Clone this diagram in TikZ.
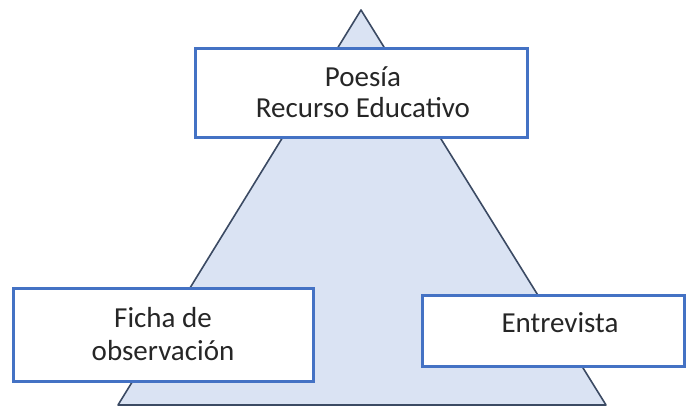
\documentclass[tikz,border=0pt]{standalone}
\usepackage{fontspec}
\setmainfont{Carlito}
\definecolor{trifill}{HTML}{DAE3F3}
\definecolor{tristroke}{HTML}{3B4A63}
\definecolor{boxblue}{HTML}{4472C4}
\definecolor{txt}{HTML}{262626}
\begin{document}
\begin{tikzpicture}[x=1pt,y=-1pt,
  box/.style={draw=boxblue,line width=3pt,fill=white,inner sep=0pt},
  lbl/.style={text=txt,font=\fontsize{29}{31}\selectfont,align=center,anchor=base,inner sep=0pt}]
\useasboundingbox (0,0) rectangle (686,406);
\coordinate (apex) at (361,10);
\coordinate (bl) at (118,405);
\coordinate (br) at (606,405);
\draw[fill=trifill,draw=tristroke,line width=1.6pt,line join=round] (apex) -- (br) -- (bl) -- cycle;
\node[box,minimum width=332pt,minimum height=89pt] (top) at (361,93.5) {};
\node[lbl] (toptext) at (363,118) {Poesía\\Recurso Educativo};
\node[box,minimum width=300pt,minimum height=92pt] (left) at (163,335) {};
\node[lbl,font=\fontsize{29}{33}\selectfont] (lefttext) at (163,360) {Ficha de\\observación};
\node[box,minimum width=262pt,minimum height=70pt] (right) at (553,331) {};
\node[lbl] (righttext) at (560,333) {Entrevista};
\end{tikzpicture}
\end{document}
